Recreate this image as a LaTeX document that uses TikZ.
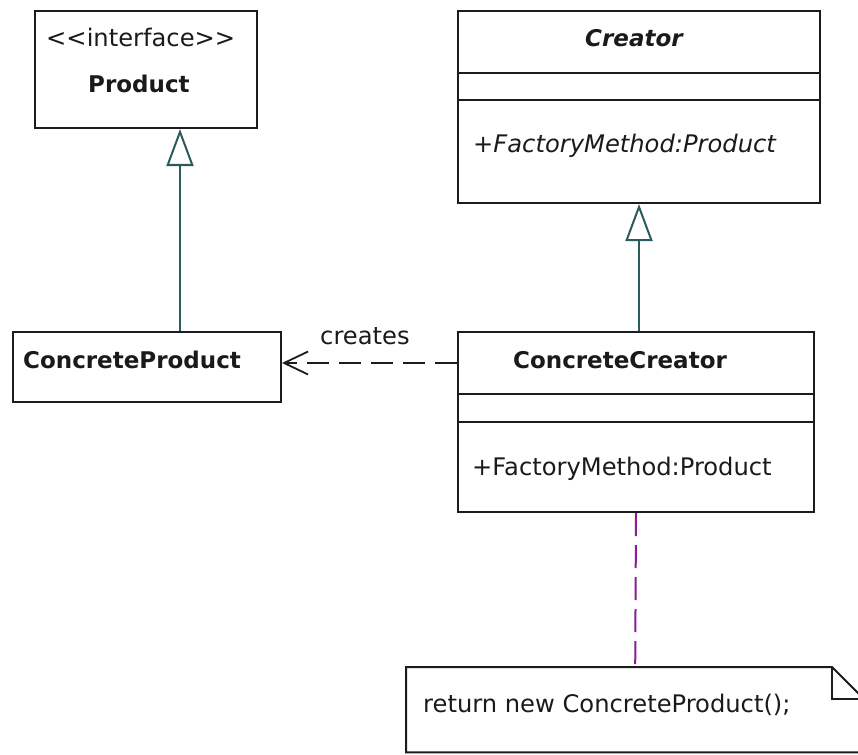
\documentclass[tikz,border=0pt]{standalone}
\usepackage{fontspec}
\setmainfont{DejaVu Sans}
\usetikzlibrary{arrows.meta}
\definecolor{edgecol}{HTML}{1C1C1C}
\definecolor{inhcol}{HTML}{2A5C5C}
\definecolor{notecol}{HTML}{8B1A95}
\definecolor{txtcol}{HTML}{1A1A1A}

\begin{document}
\begin{tikzpicture}[x=1pt,y=-1pt,
  cell/.style={draw=edgecol, line width=2pt, inner sep=0pt, anchor=north west},
  lbl/.style={anchor=base west, inner sep=0pt, text=txtcol, font=\fontsize{24.2}{29}\selectfont},
  blbl/.style={anchor=base west, inner sep=0pt, text=txtcol, font=\fontsize{23}{28}\selectfont\bfseries},
  inherit/.style={draw=inhcol, line width=1.8pt,
    -{Triangle[open, length=37pt, width=27pt, line width=2pt]}},
  depend/.style={draw=edgecol, line width=1.8pt, dash pattern=on 22pt off 10pt,
    -{Straight Barb[length=24pt, width=23pt, line width=1.8pt]}},
  anchorline/.style={draw=notecol, line width=2pt, dash pattern=on 23pt off 9pt}]

\useasboundingbox (0,0) rectangle (858,754);
\clip (0,0) rectangle (858,754);

% Product interface
\node[cell, minimum width=222pt, minimum height=117pt] (prod) at (34,10) {};
\node[lbl] (prodst) at (46,47) {{<}{<}interface{>}{>}};
\node[blbl] (prodname) at (88,93) {Product};

% Creator (abstract class)
\node[cell, minimum width=362pt, minimum height=62pt] (crname) at (457,10) {};
\node[cell, minimum width=362pt, minimum height=27pt] (crattr) at (457,72) {};
\node[cell, minimum width=362pt, minimum height=103pt] (crops) at (457,99) {};
\node[blbl, font=\fontsize{23}{28}\selectfont\bfseries\itshape] (crtitle) at (585,47) {Creator};
\node[lbl, font=\fontsize{24.2}{29}\selectfont\itshape] (crmeth) at (473,153) {+FactoryMethod:Product};

% ConcreteProduct
\node[cell, minimum width=268pt, minimum height=70pt] (cprod) at (12,331) {};
\node[blbl] (cprodname) at (23,368) {ConcreteProduct};

% ConcreteCreator
\node[cell, minimum width=356pt, minimum height=62pt] (ccname) at (457,331) {};
\node[cell, minimum width=356pt, minimum height=28pt] (ccattr) at (457,393) {};
\node[cell, minimum width=356pt, minimum height=90pt] (ccops) at (457,421) {};
\node[blbl] (cctitle) at (513,368) {ConcreteCreator};
\node[lbl] (ccmeth) at (472,475) {+FactoryMethod:Product};

% Note attached to ConcreteCreator
\node[inner sep=0pt, minimum width=458pt, minimum height=85pt, anchor=north west] (note) at (406,667) {};
\draw[edgecol, line width=2pt]
  (note.north west) -- (832,667) -- (864,699) -- (note.south east) -- (note.south west) -- cycle;
\draw[edgecol, line width=2pt] (832,667) -- (832,699) -- (864,699);
\node[lbl] (notetext) at (423,712) {return new ConcreteProduct();};

% Relations
\draw[inherit] (cprod.north -| 180,0) -- (prod.south -| 180,0);
\draw[inherit] (crops.south |- ccname.north) -- (crops.south);
\draw[depend] (ccname.west) -- (ccname.west -| cprod.east);
\node[lbl] (createslbl) at (320,344) {creates};
\draw[anchorline] (ccops.south) -- (note.north);
\end{tikzpicture}
\end{document}
